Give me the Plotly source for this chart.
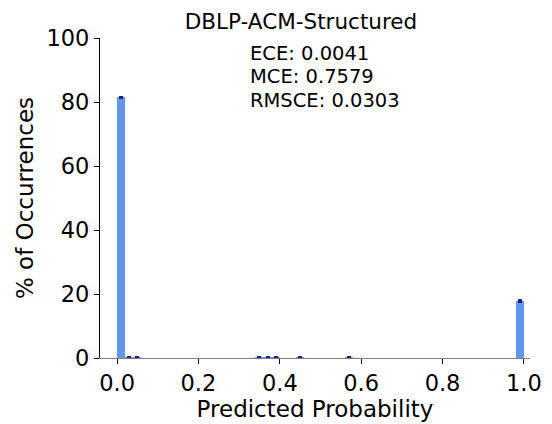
import plotly.graph_objects as go

bin_centers = [0.01, 0.03, 0.05, 0.35, 0.37, 0.39, 0.45, 0.57, 0.99]
percent = [81.5, 0.12, 0.1, 0.1, 0.1, 0.1, 0.12, 0.1, 17.8]
err = [0.2, 0.1, 0.1, 0.1, 0.1, 0.1, 0.1, 0.1, 0.2]
title = "DBLP-ACM-Structured"
metrics = ["ECE: 0.0041", "MCE: 0.7579", "RMSCE: 0.0303"]
x_ticks = [0.0, 0.2, 0.4, 0.6, 0.8, 1.0]
y_ticks = [0, 20, 40, 60, 80, 100]

font = "DejaVu Sans"
L, R, T, B = 100, 530, 38, 358
fig = go.Figure()
fig.add_trace(go.Bar(
    x=bin_centers, y=percent, width=0.02,
    marker=dict(color="#6495ED", line=dict(width=0)),
    error_y=dict(type="data", array=err, visible=True, color="#1a237e", thickness=2, width=2),
))
fig.update_layout(
    width=552, height=424,
    margin=dict(l=L, r=552 - R, t=T, b=424 - B, autoexpand=False),
    paper_bgcolor="white", plot_bgcolor="white",
    showlegend=False,
    font=dict(family=font, size=22, color="black"),
    title=dict(text=title, x=301 / 552, xanchor="center", y=1 - 21 / 424, yanchor="middle",
               font=dict(family=font, size=21.5, color="black")),
    bargap=0,
)
fig.update_xaxes(range=[-0.042, 1.015], tickvals=x_ticks,
                 ticktext=[f"{v:.1f}" for v in x_ticks],
                 showline=True, linecolor="#808080", linewidth=1.2,
                 ticks="outside", ticklen=5, tickcolor="black",
                 showgrid=False, zeroline=False, automargin=False,
                 title=dict(text="Predicted Probability", font=dict(size=23), standoff=2),
                 tickfont=dict(size=22.5))
fig.update_yaxes(range=[0, 100], tickvals=y_ticks,
                 showline=True, linecolor="black", linewidth=1.2,
                 ticks="outside", ticklen=5, tickcolor="black",
                 showgrid=False, zeroline=False, automargin=False,
                 title=dict(text="% of Occurrences", font=dict(size=23), standoff=6),
                 tickfont=dict(size=22.5))
for i, (line, yc) in enumerate(zip(metrics, [53, 77, 100])):
    fig.add_annotation(text=line, xref="paper", yref="paper",
                       x=(250 - L) / (R - L), y=1 - (yc - T) / (B - T),
                       xanchor="left", yanchor="middle", align="left", showarrow=False,
                       xshift=-2,
                       font=dict(family=font, size=19.5, color="black"))
fig.write_html("out.html")
